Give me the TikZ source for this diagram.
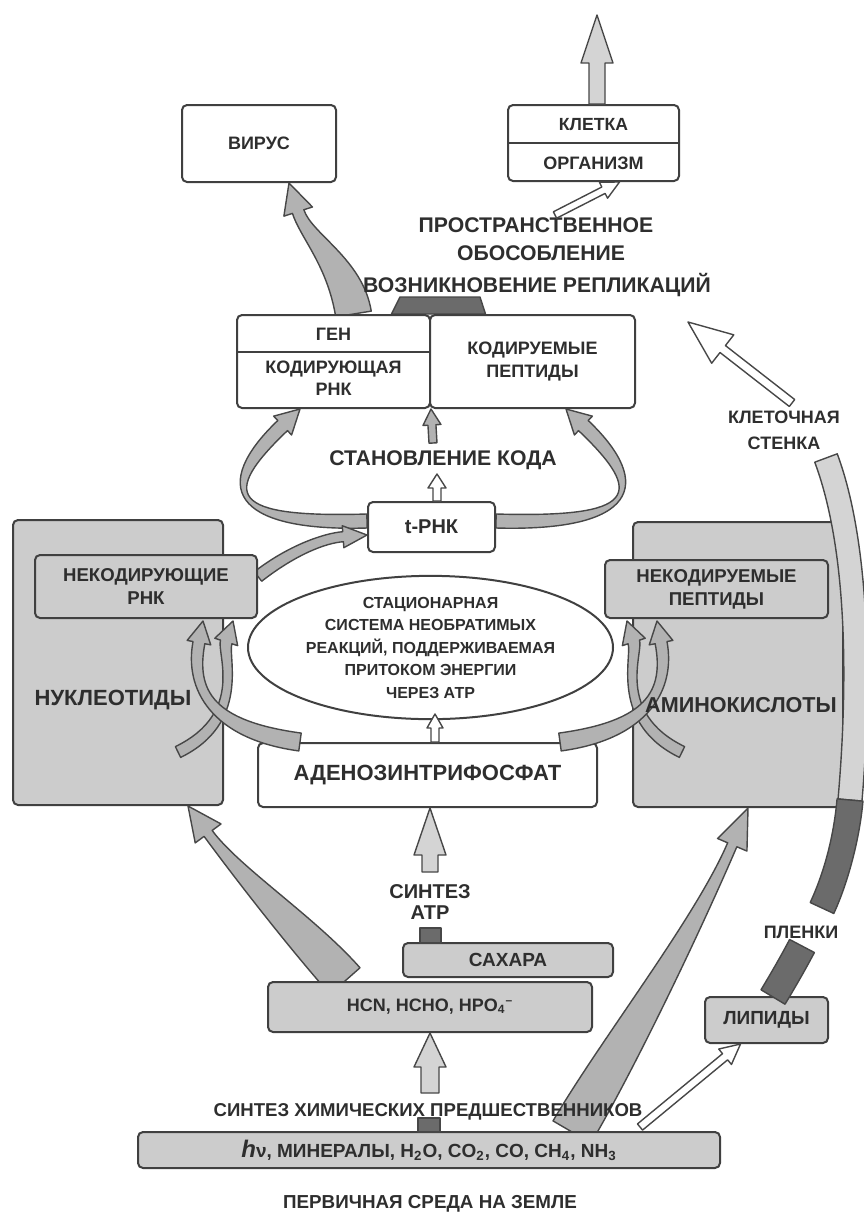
\documentclass[tikz,border=0pt]{standalone}
\usepackage{fontspec}
\setmainfont{Liberation Sans}
\usetikzlibrary{calc,shapes.geometric}
\pgfdeclarelayer{bg}
\pgfsetlayers{bg,main}
\newcommand\fsz[1]{\fontsize{#1}{1.25\dimexpr #1pt\relax}\selectfont}
% curved (optionally tapered) band with arrow head
\newcommand\flow[9]{%
 \path #2 coordinate (fS) #3 coordinate (fA) #4 coordinate (fB) #5 coordinate (fT);
 \path ($(fT)!#9!(fB)$) coordinate (fH);
 \draw[#1] ($(fS)!#6!90:(fA)$) .. controls ($(fA)!#6!-90:(fS)$) and ($(fB)!#7!90:(fH)$) .. ($(fH)!#7!-90:(fB)$)
   -- ($(fH)!#8!-90:(fB)$) -- (fT) -- ($(fH)!#8!90:(fB)$) -- ($(fH)!#7!90:(fB)$)
   .. controls ($(fB)!#7!-90:(fH)$) and ($(fA)!#6!90:(fS)$) .. ($(fS)!#6!-90:(fA)$) -- cycle;}
% straight block arrow
\newcommand\sarrow[7]{%
 \path #2 coordinate (sS) #3 coordinate (sT);
 \path ($(sT)!#7!(sS)$) coordinate (sH);
 \draw[#1] ($(sS)!#4!90:(sT)$) -- ($(sH)!#5!-90:(sS)$) -- ($(sH)!#6!-90:(sS)$) -- (sT)
   -- ($(sH)!#6!90:(sS)$) -- ($(sH)!#5!90:(sS)$) -- ($(sS)!#4!-90:(sT)$) -- cycle;}
% curved band without head
\newcommand\bandc[6]{%
 \path #2 coordinate (bS) #3 coordinate (bA) #4 coordinate (bB) #5 coordinate (bE);
 \draw[#1] ($(bS)!#6!90:(bA)$) .. controls ($(bA)!#6!-90:(bS)$) and ($(bB)!#6!90:(bE)$) .. ($(bE)!#6!-90:(bB)$)
   -- ($(bE)!#6!90:(bB)$) .. controls ($(bB)!#6!-90:(bE)$) and ($(bA)!#6!90:(bS)$) .. ($(bS)!#6!-90:(bA)$) -- cycle;}
\begin{document}
\begin{tikzpicture}[x=0.5pt,y=-0.5pt,
 box/.style={draw=black!75, line width=1pt, rounded corners=2.5pt, fill=white, inner sep=0pt, align=center, text=black!82, font=\bfseries\fsz{9}},
 gbox/.style={box, fill=black!20},
 txt/.style={inner sep=0pt, align=center, text=black!82, font=\bfseries\fsz{9}},
 band/.style={draw=black!72, line width=0.7pt, fill=black!30, line join=round},
 lband/.style={band, fill=black!17},
 dband/.style={band, fill=black!58},
 hollow/.style={band, fill=white},
 divider/.style={draw=black!75, line width=1pt}]
\useasboundingbox (0,0) rectangle (863,1221);

% ---------- nodes ----------
\node[box, minimum width=77pt, minimum height=38.5pt] (virus) at (259,143.5) {ВИРУС};
\node[box, minimum width=85.5pt, minimum height=38pt] (cell) at (593.5,143) {};
\draw[divider] (cell.west) -- (cell.east);
\node[txt, font=\bfseries\fsz{8.8}] (kl) at (593.5,125) {КЛЕТКА};
\node[txt, font=\bfseries\fsz{9}] (org) at (593.5,163) {ОРГАНИЗМ};

\node[txt, font=\bfseries\fsz{10.6}] (prost) at (536,225) {ПРОСТРАНСТВЕННОЕ};
\node[txt, font=\bfseries\fsz{10.6}] (obos) at (541,253) {ОБОСОБЛЕНИЕ};

\node[box, minimum width=96.5pt, minimum height=46.5pt] (gene) at (333.5,361.5) {};
\draw[divider] ($(gene.north west)!0.4!(gene.south west)$) -- ($(gene.north east)!0.4!(gene.south east)$);
\node[txt] (gen) at (333.5,334) {ГЕН};
\node[txt] (krnk) at (333.5,378) {КОДИРУЮЩАЯ\\РНК};
\node[box, minimum width=102.5pt, minimum height=46.5pt] (pep) at (532.5,361.5) {КОДИРУЕМЫЕ\\ПЕПТИДЫ};

\node[txt, font=\bfseries\fsz{10.6}] (code) at (443,460) {СТАНОВЛЕНИЕ КОДА};
\node[box, font=\bfseries\fsz{10}, minimum width=63.5pt, minimum height=25pt] (trna) at (431.5,527) {t-РНК};

\node[gbox, minimum width=105pt, minimum height=142.5pt] (nucl) at (118,662.5) {};
\node[gbox, minimum width=105pt, minimum height=142.5pt] (amino) at (738,664.5) {};
\node[gbox, font=\bfseries\fsz{9.3}, minimum width=111pt, minimum height=31.5pt] (ncrna) at (146,586.5) {НЕКОДИРУЮЩИЕ\\РНК};
\node[gbox, font=\bfseries\fsz{9.3}, minimum width=111.5pt, minimum height=29pt] (ncpep) at (716.5,589) {НЕКОДИРУЕМЫЕ\\ПЕПТИДЫ};

\node[ellipse, draw=black!75, line width=1pt, fill=white, inner sep=0pt, minimum width=182.5pt, minimum height=67.5pt,
      align=center, text=black!82, font=\bfseries\fontsize{8}{11.25}\selectfont] (ell) at (430.5,647.5)
  {СТАЦИОНАРНАЯ\\СИСТЕМА НЕОБРАТИМЫХ\\РЕАКЦИЙ, ПОДДЕРЖИВАЕМАЯ\\ПРИТОКОМ ЭНЕРГИИ\\ЧЕРЕЗ АТР};

\node[box, font=\bfseries\fsz{11}, minimum width=169.5pt, minimum height=32pt] (atp) at (427.5,775) {АДЕНОЗИНТРИФОСФАТ};
\node[txt, font=\bfseries\fontsize{10}{10.5}\selectfont] (synatp) at (430,902) {СИНТЕЗ\\АТР};
\node[gbox, font=\bfseries\fsz{9.5}, minimum width=105pt, minimum height=17pt] (sugar) at (508,960) {САХАРА};
\node[gbox, font=\bfseries\fsz{9}, minimum width=162pt, minimum height=25pt] (hcn) at (430,1007)
  {HCN, HCHO, HPO\textsubscript{4}\textsuperscript{–}};
\node[gbox, font=\bfseries\fsz{9.5}, minimum width=291pt, minimum height=18pt] (base) at (429,1150)
  {{\fsz{12}\textit{h}}ν, МИНЕРАЛЫ, H\textsubscript{2}O, CO\textsubscript{2}, CO, CH\textsubscript{4}, NH\textsubscript{3}};
\node[txt, font=\bfseries\fsz{9.4}] (earth) at (430,1204) {ПЕРВИЧНАЯ СРЕДА НА ЗЕМЛЕ};

\node[gbox, font=\bfseries\fsz{9.5}, minimum width=61.5pt, minimum height=23pt] (lipid) at (766.5,1020) {ЛИПИДЫ};
\node[txt, font=\bfseries\fsz{9}] (plenki) at (801,932) {ПЛЕНКИ};
\node[txt, font=\bfseries\fontsize{9}{13}\selectfont] (wall) at (784,430) {КЛЕТОЧНАЯ\\СТЕНКА};

% ---------- background connectors ----------
\begin{pgfonlayer}{bg}
 % virus band (tapered)
 \flow{band}{([xshift=10pt]gene.north)}{(345,262)}{(306,236)}{([xshift=15pt]virus.south)}{9pt}{3pt}{7.5pt}{15pt}
 % stem block under the title
 \draw[dband] ([xshift=29pt]gene.north) -- (400,297) -- (480,297) -- ([xshift=76pt]gene.north) -- cycle;
 % code loops
 \flow{band}{([yshift=3pt]trna.west)}{(230,525)}{(215,490)}{(300,409)}{3.5pt}{3.5pt}{6.5pt}{12pt}
 \flow{band}{([yshift=3pt]trna.east)}{(636,525)}{(651,490)}{(566,409)}{3.5pt}{3.5pt}{6.5pt}{12pt}
 % non-coding RNA -> t-RNA
 \flow{band}{([yshift=5pt]ncrna.east)}{(292,550)}{(325,538)}{([yshift=-4pt]trna.west)}{3pt}{2.5pt}{5.5pt}{12pt}
 % precursors -> nucleotides, amino acids
 \flow{band}{(345,981)}{(300,930)}{(235,870)}{([xshift=-18pt]nucl.south east)}{10pt}{2.5pt}{8pt}{17pt}
 \flow{band}{(572,1132)}{(620,1050)}{(700,920)}{([xshift=-48pt]amino.south east)}{11pt}{2.5pt}{8pt}{20pt}
\end{pgfonlayer}

% upward arrows
\sarrow{lband}{(cell.north -| 597,0)}{(597,15)}{4pt}{4pt}{8pt}{24pt}
\sarrow{hollow}{(555,215)}{([xshift=13pt]cell.south)}{1.8pt}{1.8pt}{4.5pt}{9pt}
\sarrow{band}{(433,443)}{(gene.south east)}{2pt}{2pt}{4.5pt}{8pt}
\sarrow{hollow}{([xshift=2.75pt]trna.north)}{(437,474)}{2pt}{2pt}{4.5pt}{7pt}
\sarrow{hollow}{([xshift=3.75pt]atp.north)}{(435,714)}{2pt}{2pt}{4pt}{7pt}
\sarrow{lband}{(430,872)}{(atp.south -| 430,0)}{4pt}{4pt}{8pt}{23.5pt}
\draw[dband] (420,928) rectangle (441,943);
\sarrow{lband}{(430,1093)}{(hcn.south)}{4.5pt}{4.5pt}{8pt}{17pt}
\draw[dband] (418,1118) rectangle (440,1132);

% helix arrows, left
\flow{band}{(178,752)}{(248,718)}{(222,655)}{(233,621)}{3pt}{3pt}{6pt}{11pt}
\flow{band}{(300,742)}{(212,730)}{(190,690)}{(203,621)}{4.5pt}{3pt}{6pt}{11pt}
% helix arrows, right
\flow{band}{(682,752)}{(612,718)}{(638,655)}{(627,621)}{3pt}{3pt}{6pt}{11pt}
\flow{band}{(560,742)}{(648,730)}{(670,690)}{(657,621)}{4.5pt}{3pt}{6pt}{11pt}

% labels of the big boxes, on top of the helix bands
\node[txt, font=\bfseries\fsz{11}] (nucllbl) at (113,700) {НУКЛЕОТИДЫ};
\node[txt, font=\bfseries\fsz{10.8}] (aminolbl) at (741,705) {АМИНОКИСЛОТЫ};

% lipids, films, cell wall
\sarrow{hollow}{(640,1127)}{([xshift=-13pt]lipid.south)}{2pt}{2pt}{5pt}{10pt}
\bandc{dband}{(802,946)}{(792,965)}{(782,982)}{(773,997)}{7pt}
\bandc{lband}{(826,458)}{(864,560)}{(857,720)}{(850,800)}{6pt}
\bandc{dband}{(850,800)}{(846.5,840)}{(835,880)}{(822,908)}{6.5pt}
\sarrow{hollow}{(792,403)}{(688,322)}{2.2pt}{2.2pt}{9pt}{22pt}

% texts on top of the bands
\node[txt, font=\bfseries\fsz{9.3}] (synchem) at (428,1112) {СИНТЕЗ ХИМИЧЕСКИХ ПРЕДШЕСТВЕННИКОВ};
\node[txt, font=\bfseries\fsz{10.6}] (repl) at (537,285) {ВОЗНИКНОВЕНИЕ РЕПЛИКАЦИЙ};
\end{tikzpicture}
\end{document}
